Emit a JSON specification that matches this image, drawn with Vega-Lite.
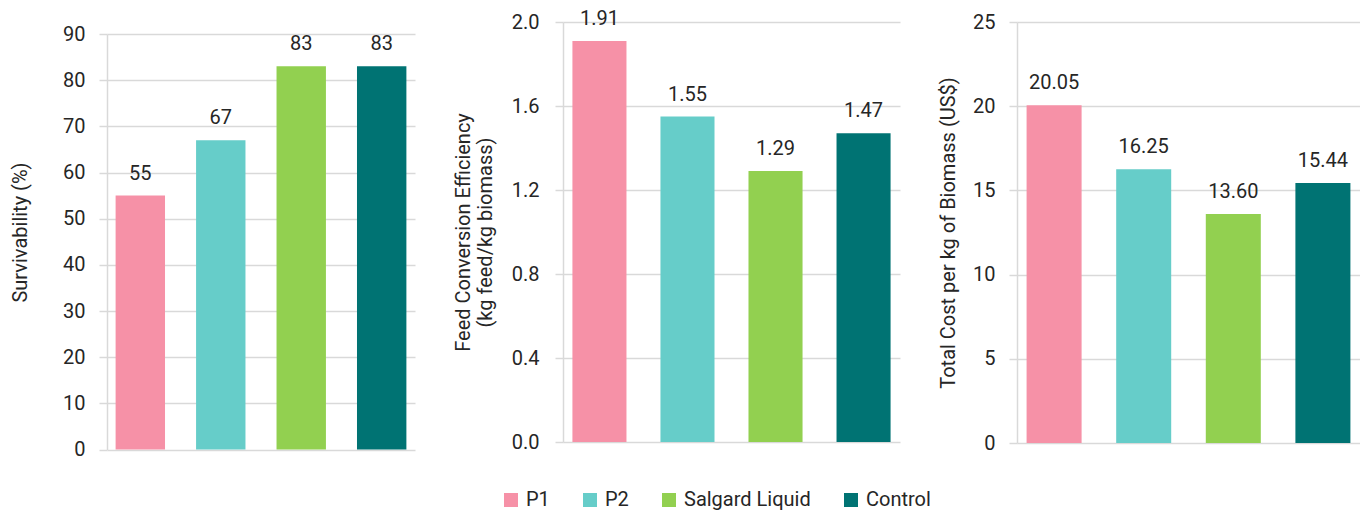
{
  "$schema": "https://vega.github.io/schema/vega-lite/v6.json",
  "autosize": {"type": "pad"},
  "padding": {"left": 10, "top": 8, "right": 0, "bottom": 0},
  "background": "white",
  "data": {
    "values": [
      {"group": "P1", "survivability": 55, "fce": 1.91, "cost": 20.05},
      {"group": "P2", "survivability": 67, "fce": 1.55, "cost": 16.25},
      {"group": "Salgard Liquid", "survivability": 83, "fce": 1.29, "cost": 13.60},
      {"group": "Control", "survivability": 83, "fce": 1.47, "cost": 15.44}
    ]
  },
  "config": {
    "font": "Roboto",
    "view": {"stroke": null},
    "axis": {
      "gridColor": "#d9d9d9",
      "domainColor": "#d9d9d9",
      "tickColor": "#d9d9d9",
      "tickSize": 8,
      "labelPadding": 14,
      "labelFontSize": 20,
      "labelColor": "#262626",
      "titleFontSize": 20,
      "titleFontWeight": "normal",
      "titleColor": "#262626",
      "domainWidth": 1.5,
      "gridWidth": 1.5,
      "tickWidth": 1.5
    },
    "legend": {
      "labelFontSize": 20,
      "labelColor": "#262626",
      "symbolType": "square",
      "symbolSize": 196,
      "symbolStrokeWidth": 0,
      "labelOffset": 5,
      "columnPadding": 30
    }
  },
  "bounds": "flush",
  "spacing": 456,
  "hconcat": [
    {
      "bounds": "flush",
      "spacing": 0,
      "vconcat": [
        {
          "width": 308,
          "height": 11.5,
          "mark": {"type": "rect", "opacity": 0},
          "encoding": {}
        },
        {
          "width": 308,
          "height": 415.5,
          "encoding": {
            "x": {"field": "group", "type": "nominal", "sort": null, "axis": null,
                  "scale": {"paddingInner": 0.386, "paddingOuter": 0.107}},
            "y": {"field": "survivability", "type": "quantitative",
                  "scale": {"domain": [0, 90], "nice": false},
                  "axis": {"values": [0, 10, 20, 30, 40, 50, 60, 70, 80, 90], "title": "Survivability (%)", "titlePadding": 32.5, "titleY": 198}}
          },
          "layer": [
            {
              "mark": {"type": "bar"},
              "encoding": {
                "color": {"field": "group", "type": "nominal", "sort": null,
                  "scale": {"domain": ["P1", "P2", "Salgard Liquid", "Control"],
                            "range": ["#F691A7", "#66CDC9", "#92D050", "#007373"]},
                  "legend": {"title": null, "orient": "none", "direction": "horizontal", "legendX": 394, "legendY": 468}}
              }
            },
            {
              "mark": {"type": "text", "baseline": "alphabetic", "dy": -16, "fontSize": 20, "color": "#262626"},
              "encoding": {"text": {"field": "survivability", "type": "quantitative", "format": ".0f"}}
            }
          ]
        }
      ]
    },
    {
      "bounds": "flush",
      "spacing": 117,
      "hconcat": [
        {
          "width": 337,
          "height": 420,
          "encoding": {
            "x": {"field": "group", "type": "nominal", "sort": null, "axis": null,
                  "scale": {"paddingInner": 0.386, "paddingOuter": 0.107}},
            "y": {"field": "fce", "type": "quantitative",
                  "scale": {"domain": [0, 2], "nice": false},
                  "axis": {"values": [0, 0.4, 0.8, 1.2, 1.6, 2.0], "format": ".1f", "labelPadding": 16,
                           "title": ["Feed Conversion Efficiency", "(kg feed/kg biomass)"], "titlePadding": 16}}
          },
          "layer": [
            {
              "mark": {"type": "bar"},
              "encoding": {"color": {"field": "group", "type": "nominal", "sort": null}}
            },
            {
              "mark": {"type": "text", "baseline": "alphabetic", "dy": -16, "fontSize": 20, "color": "#262626"},
              "encoding": {"text": {"field": "fce", "type": "quantitative", "format": ".2f"}}
            }
          ]
        },
        {
          "width": 343,
          "height": 421,
          "encoding": {
            "x": {"field": "group", "type": "nominal", "sort": null, "axis": null,
                  "scale": {"paddingInner": 0.386, "paddingOuter": 0.107}},
            "y": {"field": "cost", "type": "quantitative",
                  "scale": {"domain": [0, 25], "nice": false},
                  "axis": {"values": [0, 5, 10, 15, 20, 25], "format": "d",
                           "title": "Total Cost per kg of Biomass (US$)", "titlePadding": 14}}
          },
          "layer": [
            {
              "mark": {"type": "bar"},
              "encoding": {"color": {"field": "group", "type": "nominal", "sort": null}}
            },
            {
              "mark": {"type": "text", "baseline": "alphabetic", "dy": -16, "fontSize": 20, "color": "#262626"},
              "encoding": {"text": {"field": "cost", "type": "quantitative", "format": ".2f"}}
            }
          ]
        }
      ]
    }
  ],
  "resolve": {"scale": {"color": "shared", "y": "independent", "x": "independent"}}
}
